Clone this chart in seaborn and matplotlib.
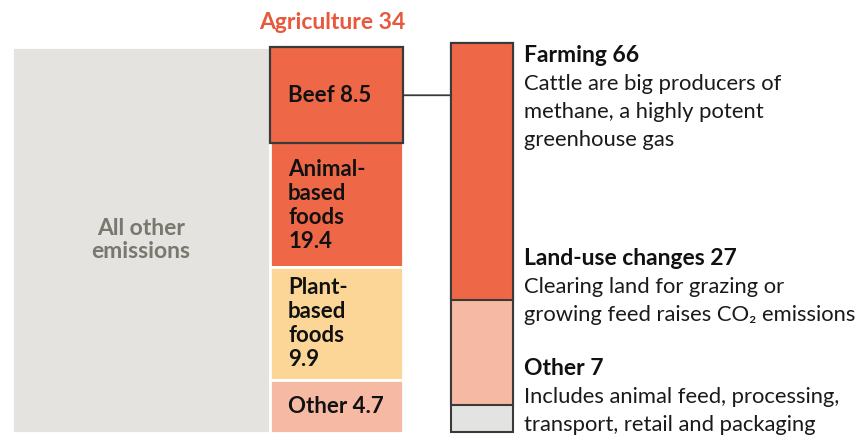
import matplotlib
matplotlib.use("Agg")
import matplotlib.pyplot as plt
from matplotlib.patches import ConnectionPatch
from matplotlib.transforms import blended_transform_factory
import numpy as np
import pandas as pd
import seaborn as sns

# Share of global greenhouse-gas emissions, %
agriculture_total = 34
food_groups = ["Animal-\nbased\nfoods", "Plant-\nbased\nfoods", "Other"]
food_values = [19.4, 9.9, 4.7]
beef_value = 8.5

# Beef emissions by source, %
beef_stages = ["Farming", "Land-use changes", "Other"]
beef_shares = [66, 27, 7]
beef_notes = [
    "Cattle are big producers of\nmethane, a highly potent\ngreenhouse gas",
    "Clearing land for grazing or\ngrowing feed raises CO\u2082 emissions",
    "Includes animal feed, processing,\ntransport, retail and packaging",
]

ORANGE = "#EE6847"
YELLOW = "#FCD696"
SALMON = "#F6B9A3"
GRAY = "#E4E3DF"
LIGHT_GRAY = "#E3E3E1"
OUTLINE = "#3A3A3A"
TITLE_RED = "#E8583C"
GRAY_TEXT = "#78786E"

sns.set_theme(style="white")
plt.rcParams["font.family"] = ["Lato", "DejaVu Sans"]

fig = plt.figure(figsize=(8.62, 4.36), dpi=100)
W, H = 862, 436


def px_axes(x0, y0, x1, y1):
    return fig.add_axes([x0 / W, 1 - y1 / H, (x1 - x0) / W, (y1 - y0) / H])


# ---- Left block: all emissions split into other vs agriculture ----
axl = px_axes(12, 47, 403, 433)
other_share = 100 - agriculture_total
axl.bar(0, agriculture_total, width=other_share, bottom=0, align="edge",
        color=GRAY, edgecolor="white", linewidth=2)

food_bottoms = np.concatenate([[0], np.cumsum(food_values)[:-1]])
food_colors = [ORANGE, YELLOW, SALMON]
axl.bar(other_share, food_values, width=agriculture_total, bottom=food_bottoms,
        align="edge", color=food_colors, edgecolor="white", linewidth=2)
beef_bar = axl.bar(other_share, beef_value, width=agriculture_total, bottom=0,
                   align="edge", color=ORANGE, edgecolor=OUTLINE, linewidth=1.6)
for p in beef_bar:
    p.set_clip_on(False)

axl.set_xlim(0, 100)
axl.set_ylim(agriculture_total, 0)
axl.axis("off")

label_style = dict(fontsize=16, fontweight="bold", color="#111111",
                   ha="left", va="center", linespacing=1.17)
axl.annotate(f"Beef {beef_value}", xy=(other_share, beef_value / 2),
             xytext=(13, 0), textcoords="offset points", **label_style)
for name, val, bot in zip(food_groups, food_values, food_bottoms):
    top = bot
    if name.startswith("Animal"):
        top = beef_value
    centre = (top + bot + val) / 2
    sep = "\n" if "\n" in name else " "
    axl.annotate(f"{name}{sep}{val}", xy=(other_share, centre),
                 xytext=(13, 0), textcoords="offset points", **label_style)

axl.text(other_share / 2, agriculture_total / 2, "All other\nemissions",
         ha="center", va="center", fontsize=16.5, fontweight="bold",
         color=GRAY_TEXT, linespacing=1.12)
axl.annotate(f"Agriculture {agriculture_total}",
             xy=(other_share + agriculture_total / 2, 0),
             xytext=(-3, 13), textcoords="offset points",
             ha="center", va="baseline", fontsize=16.5, fontweight="bold",
             color=TITLE_RED)

# ---- Right bar: beef emissions by source ----
axr = px_axes(451, 43, 513, 432)
beef_df = pd.DataFrame({
    "item": "Beef",
    "stage": beef_stages,
    "end": np.cumsum(beef_shares),
})
draw_order = beef_stages[::-1]
sns.barplot(data=beef_df, x="item", y="end", hue="stage", hue_order=draw_order,
            palette={"Farming": ORANGE, "Land-use changes": SALMON,
                     "Other": LIGHT_GRAY},
            dodge=False, width=1.0, saturation=1, edgecolor=OUTLINE,
            linewidth=1.5, legend=False, ax=axr)
for p in axr.patches:
    p.set_clip_on(False)
axr.set_xlim(-0.5, 0.5)
axr.set_ylim(100, 0)
axr.axis("off")

heading_baselines = [4.9, 57.1, 85.3]
line_step = 20.2  # points between text baselines
for stage, share, note, yb in zip(beef_stages, beef_shares, beef_notes,
                                  heading_baselines):
    axr.annotate(f"{stage} {share}", xy=(0.5, yb), xytext=(8, 0),
                 textcoords="offset points", ha="left", va="baseline",
                 fontsize=16.5, fontweight="bold", color="#111111",
                 annotation_clip=False)
    for i, line in enumerate(note.split("\n")):
        axr.annotate(line, xy=(0.5, yb), xytext=(8, -line_step * (i + 1)),
                     textcoords="offset points", ha="left", va="baseline",
                     fontsize=15.8, color="#1a1a1a", annotation_clip=False)

# connector from the beef box to the beef breakdown
con = ConnectionPatch(
    xyA=(100, beef_value / 2), coordsA=axl.transData,
    xyB=(-0.5, beef_value / 2),
    coordsB=blended_transform_factory(axr.transData, axl.transData),
    color=OUTLINE, linewidth=1.3)
fig.add_artist(con)

fig.savefig("out.png", dpi=100)
